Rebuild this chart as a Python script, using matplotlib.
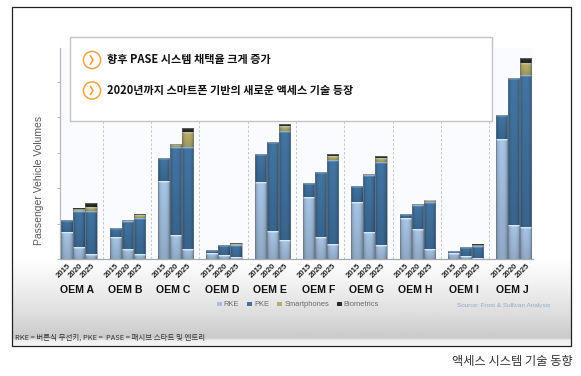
import numpy as np
import matplotlib
matplotlib.use("Agg")
import matplotlib.pyplot as plt
from matplotlib.patches import Rectangle, Circle, Patch

# values, one per OEM/year
oems = ["OEM A", "OEM B", "OEM C", "OEM D", "OEM E", "OEM F", "OEM G", "OEM H", "OEM I", "OEM J"]
years = ["2015", "2020", "2025"]
rke = [27, 12, 5, 22, 10, 5, 78, 24, 10, 6, 4, 2, 77, 28, 19,
       62, 22, 15, 57, 27, 14, 41, 30, 10, 6, 3, 1, 120, 34, 32]
pke = [12, 36, 43, 9, 28, 36, 23, 88, 102, 3, 10, 12, 28, 89, 109,
       14, 65, 84, 16, 57, 83, 4, 24, 47, 2, 9, 12, 24, 147, 152]
smart = [0, 1.5, 4, 0, 1, 3, 0, 3, 15, 0, 0, 1, 0, 0, 5,
         0, 0, 4, 0, 1, 4, 0, 1, 1.5, 0, 0, 0.7, 0, 0, 12]
bio = [0, 0.5, 4, 0, 0, 1, 0, 0, 4, 0, 0, 1, 0, 0, 2,
       0, 0, 2, 0, 0, 2, 0, 0, 0, 0, 0, 0.5, 0, 0, 5]
series_names = ["RKE", "PKE", "Smartphones", "Biometrics"]
series_colors = ["#a3c0e0", "#41729f", "#b5ad6a", "#2a2a26"]
series_glow = [0.85, 0.5, 0.3, 0.1]
yticks = [0, 35.4, 70.8, 106.2, 141.6, 177]
bullets = ["향후 PASE 시스템 채택율 크게 증가", "2020년까지 스마트폰 기반의 새로운 액세스 기술 등장"]
footnote = "RKE = 버튼식 무선키, PKE =  PASE = 패시브 스타트 및 엔트리"
caption = "액세스 시스템 기술 동향"
source = "Source: Frost & Sullivan Analysis"

plt.rcParams["font.family"] = ["Noto Sans CJK KR", "DejaVu Sans"]
W, H = 581, 376
fig = plt.figure(figsize=(W / 100, H / 100), dpi=100, facecolor="white")


def fx(x):
    return x / W


def fy(y):
    return 1 - y / H


# slide background with frame
bg = fig.add_axes([0, 0, 1, 1], zorder=0)
bg.axis("off")
yy = np.arange(340) + 7
grad = np.interp(yy, [7, 258, 290, 320, 338, 341, 346], [1, 1, 0.93, 0.85, 0.79, 0.93, 0.97])[:, None]
bg.imshow(grad, cmap="gray", vmin=0, vmax=1, extent=[12, 571, 346, 7], aspect="auto", zorder=1)
bg.set_xlim(0, W)
bg.set_ylim(H, 0)
bg.add_patch(Rectangle((60, 48), 473, 211, fc="#f9fbfe", ec="none", zorder=2))
bg.add_patch(Rectangle((12, 7), 559, 339, fc="none", ec="#222222", lw=0.9, zorder=3))

# chart
ax = fig.add_axes([fx(60), fy(259), 473 / W, 211 / H], zorder=1)
ax.patch.set_alpha(0)
step = 12.0
group_gap = 48.33 / step
x0 = (67 - 60) / step


def shaded_bar(x, bottom, height, color, glow):
    if height <= 0:
        return
    w = 0.92
    rgb = np.array(matplotlib.colors.to_rgb(color))
    nx, ny = 24, max(int(height * 3), 3)
    across = np.abs(np.linspace(-1, 1, nx))
    shade = 1 - 0.28 * across ** 3
    down = np.linspace(1.03, 0.88, ny)
    img = np.clip(rgb[None, None, :] * shade[None, :, None] * down[:, None, None], 0, 1)
    # lighter band at the segment top
    band = max(1, int(ny * min(1.0, 1.6 / height)))
    img[:band] = img[:band] * (1 - glow) + np.array([0.88, 0.95, 1.0]) * glow
    ax.imshow(img, extent=[x - w / 2, x + w / 2, bottom, bottom + height],
              aspect="auto", interpolation="bilinear", zorder=3)


xs = []
for g in range(len(oems)):
    for b in range(len(years)):
        i = g * 3 + b
        x = x0 + g * group_gap + b
        xs.append(x)
        base = 0
        for vals, col, glow in zip([rke, pke, smart, bio], series_colors, series_glow):
            shaded_bar(x, base, vals[i], col, glow)
            base += vals[i]
        ax.add_patch(Rectangle((x - 0.46, 0), 0.92, base, fc="none", ec="#6d7885", lw=0.4, zorder=4))
ax.set_xlim(0, 473 / step)
ax.set_ylim(0, 211)

# dashed separators between makers
for g in range(1, len(oems)):
    ax.axvline(x0 + g * group_gap - 1.05, color="#c4c8cc", lw=0.7, ls=(0, (2.5, 2)), zorder=1)

for side in ["top", "right"]:
    ax.spines[side].set_visible(False)
ax.spines["left"].set_color("#b4b8bc")
ax.spines["bottom"].set_color("#a6aaae")
ax.spines["left"].set_linewidth(0.9)
ax.spines["bottom"].set_linewidth(0.9)
ax.set_yticks(yticks)
ax.set_yticklabels([])
ax.tick_params(axis="y", length=2, color="#b4b8bc", width=0.7)
ax.set_xticks(xs)
ax.set_xticklabels(years * len(oems), rotation=45, ha="right", rotation_mode="anchor",
                   fontsize=5.6, fontweight="bold", family=["Liberation Sans"], color="#222222")
ax.tick_params(axis="x", length=0, pad=2.5)

fig.text(fx(39), fy(180), "Passenger Vehicle Volumes", rotation=90, ha="center", va="center",
         fontsize=7.5, color="#555a5e", family=["Liberation Sans"], zorder=5)

for g, name in enumerate(oems):
    cx = 77 + g * 48.33
    fig.text(fx(cx), fy(290), name, ha="center", va="center", fontsize=7.6, fontweight="bold",
             family=["Liberation Sans"], color="#111111")

# callout on top of the chart
top = fig.add_axes([0, 0, 1, 1], zorder=3)
top.set_xlim(0, W)
top.set_ylim(H, 0)
top.axis("off")
top.add_patch(Rectangle((69.5, 36.5), 422, 84, fc="white", ec="#c4c4c4", lw=1))
for yb, txt in zip([60, 90.5], bullets):
    top.add_patch(Circle((92, yb), 8.6, fc="white", ec="#f5a33a", lw=1.1))
    top.plot([90.5, 93, 90.5], [yb - 4, yb, yb + 4], color="#f09a2e", lw=1.1)
    top.text(107, yb, txt, ha="left", va="center", fontsize=8.0, fontweight="bold", color="#111111")

# legend row
handles = [Patch(fc=c, ec="none") for c in series_colors]
fig.legend(handles, series_names, loc="center left", bbox_to_anchor=(fx(217), fy(305)), ncol=4,
           frameon=False, labelcolor="#666a70", handlelength=0.6, handleheight=0.45,
           handletextpad=0.3, columnspacing=1.1, borderpad=0, borderaxespad=0,
           prop={"family": ["Liberation Sans"], "size": 5.4})
fig.text(fx(457), fy(305), source, ha="left", va="center", fontsize=4.6, color="#93aac6",
         family=["Liberation Sans"])
fig.text(fx(15), fy(338), footnote, ha="left", va="center", fontsize=5.4, color="#333333")
fig.text(fx(452), fy(362), caption, ha="left", va="center", fontsize=8.8, color="#333333",
         fontweight="light")

fig.savefig("out.png", dpi=100)
